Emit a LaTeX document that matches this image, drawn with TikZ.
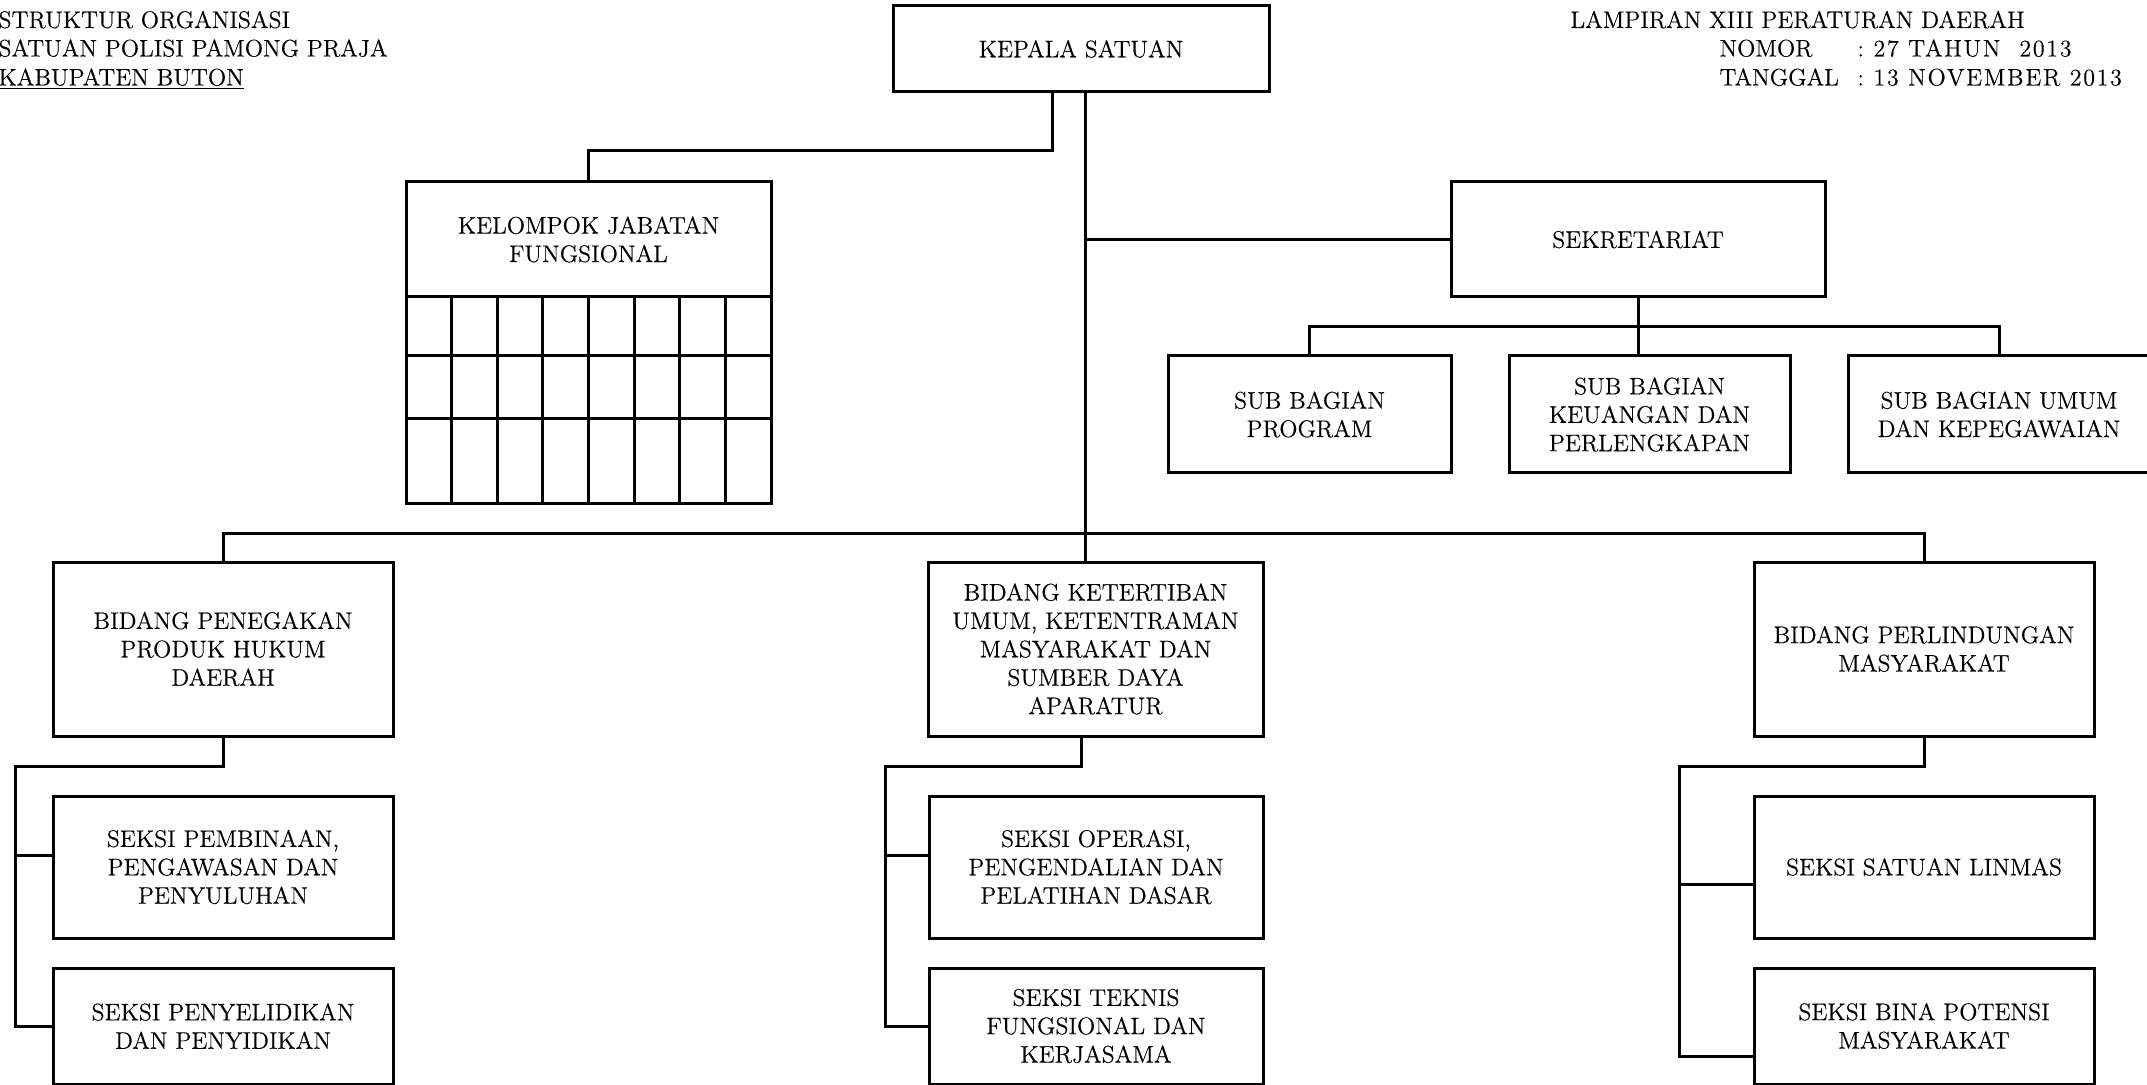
\documentclass[tikz,border=0pt]{standalone}
\usepackage{fontspec}
\setmainfont{Latin Modern Roman}[FakeBold=0.3]
\usetikzlibrary{calc}
\begin{document}
\begin{tikzpicture}[x=0.5pt,y=-0.5pt,
  line width=1.5pt,
  txt/.style={inner sep=0pt, font=\fontsize{12}{14.2}\selectfont},
  box/.style={draw, line width=1.5pt, align=center, inner sep=0pt, outer sep=0pt,
    font=\fontsize{12}{14.2}\selectfont},
  wide/.style={box, minimum width=170pt},
]
\useasboundingbox (0,0) rectangle (2147,1085);

% heading blocks
\node[txt, anchor=base west] (h1) at (-3,28) {STRUKTUR ORGANISASI};
\node[txt, anchor=base west] (h2) at (-3,56.5) {SATUAN POLISI PAMONG PRAJA};
\node[txt, anchor=base west] (h3) at (-3,85.5) {\underline{KABUPATEN BUTON}};

\node[txt, anchor=base west] (r1) at (1569,28) {LAMPIRAN XIII PERATURAN DAERAH};
\node[txt, anchor=base west] (r2) at (1718,56.5) {NOMOR};
\node[txt, anchor=base west] (r2v) at (1856,56.5) {\addfontfeature{LetterSpace=7}:\ 27 TAHUN\ \ 2013};
\node[txt, anchor=base west] (r3) at (1718,85.5) {TANGGAL};
\node[txt, anchor=base west] (r3v) at (1856,85.5) {\addfontfeature{LetterSpace=7}:\ 13 NOVEMBER 2013};

% top level
\node[box, minimum width=188pt, minimum height=43pt] (kepala) at (1081,49) {KEPALA SATUAN};

% functional group with its grid
\node[box, minimum width=182.5pt, minimum height=57.5pt] (kjf) at (588.5,239.5) {KELOMPOK JABATAN\\FUNGSIONAL};
\node[draw, minimum width=182.5pt, minimum height=103pt, inner sep=0pt, outer sep=0pt, anchor=north] (kjfgrid) at (kjf.south) {};
\foreach \i in {1,...,7}
  \draw ($(kjfgrid.north west)!\i/8!(kjfgrid.north east)$) -- ($(kjfgrid.south west)!\i/8!(kjfgrid.south east)$);
\foreach \f in {0.2864,0.5874}
  \draw ($(kjfgrid.north west)!\f!(kjfgrid.south west)$) -- ($(kjfgrid.north east)!\f!(kjfgrid.south east)$);

% secretariat
\node[box, minimum width=187pt, minimum height=57.5pt] (sekr) at (1638,239.5) {SEKRETARIAT};
\node[box, minimum width=141.5pt, minimum height=58.5pt] (prog) at (1309.5,414.5) {SUB BAGIAN\\PROGRAM};
\node[box, minimum width=140.5pt, minimum height=58.5pt] (keu) at (1649.5,414.5) {SUB BAGIAN\\KEUANGAN DAN\\PERLENGKAPAN};
\node[box, minimum width=151pt, minimum height=58.5pt] (umum) at (1999,414.5) {SUB BAGIAN UMUM\\DAN KEPEGAWAIAN};

% divisions
\node[wide, minimum height=87pt] (bl) at (223,649) {BIDANG PENEGAKAN\\PRODUK HUKUM\\DAERAH};
\node[box, minimum width=167.5pt, minimum height=87pt] (bm) at (1095.5,649) {BIDANG KETERTIBAN\\UMUM, KETENTRAMAN\\MASYARAKAT DAN\\SUMBER DAYA\\APARATUR};
\node[wide, minimum height=87pt] (br) at (1924,649) {BIDANG PERLINDUNGAN\\MASYARAKAT};

% sections
\node[wide, minimum height=71pt] (sl1) at (223,867) {SEKSI PEMBINAAN,\\PENGAWASAN DAN\\PENYULUHAN};
\node[wide, minimum height=58pt] (sl2) at (223,1026) {SEKSI PENYELIDIKAN\\DAN PENYIDIKAN};
\node[box, minimum width=167pt, minimum height=71pt] (sm1) at (1096,867) {SEKSI OPERASI,\\PENGENDALIAN DAN\\PELATIHAN DASAR};
\node[box, minimum width=167pt, minimum height=58pt] (sm2) at (1096,1026) {SEKSI TEKNIS\\FUNGSIONAL DAN\\KERJASAMA};
\node[wide, minimum height=71pt] (sr1) at (1924,867) {SEKSI SATUAN LINMAS};
\node[wide, minimum height=58pt] (sr2) at (1924,1026) {SEKSI BINA POTENSI\\MASYARAKAT};

% connectors from the head
\draw ([xshift=-14.5pt]kepala.south) -- ++(0,59) -| (kjf.north);
\draw ([xshift=2pt]kepala.south) -- ([xshift=2pt]kepala.south |- bm.north);
\draw ([xshift=2pt]kepala.south |- sekr.west) -- (sekr.west);
\draw (bl.north) -- ++(0,-29) -| (br.north);

% secretariat branches
\draw (sekr.south) -- (sekr.south |- keu.north);
\draw (prog.north) -- ++(0,-29) -| (umum.north);

% left division sections
\draw (bl.south) -- ++(0,30) -| ([xshift=-19pt]sl2.west) -- (sl2.west);
\draw ([yshift=6pt]sl1.west) -- ++(-38,0);

% middle division sections
\draw ([xshift=-7.25pt]bm.south) -- ++(0,30) -| ([xshift=-22pt]sm2.west) -- (sm2.west);
\draw ([yshift=6pt]sm1.west) -- ++(-44,0);

% right division sections
\draw (br.south) -- ++(0,30) -| ([xshift=-37.5pt,yshift=-15pt]sr2.west) -- ([yshift=-15pt]sr2.west);
\draw ([yshift=-8.5pt]sr1.west) -- ++(-75,0);
\end{tikzpicture}
\end{document}
